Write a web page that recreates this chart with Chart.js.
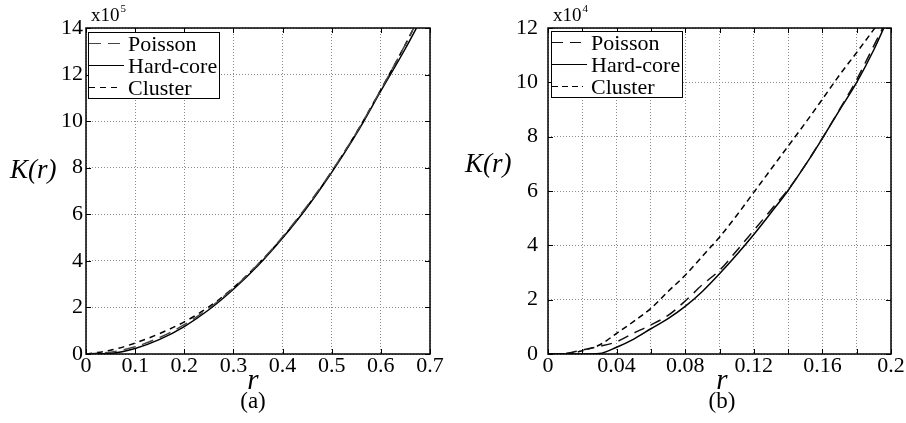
<!DOCTYPE html>
<html>
<head>
<meta charset="utf-8">
<title>K(r)</title>
<script src="https://cdn.jsdelivr.net/npm/chart.js@4.4.1/dist/chart.umd.min.js"></script>
<style>
  body { margin: 0; background: #fff; }
  #wrap { position: relative; width: 906px; height: 423px; }
  canvas { position: absolute; top: 0; }
</style>
</head>
<body>
<div id="wrap">
  <canvas id="chartA" width="453" height="423" style="left:0"></canvas>
  <canvas id="chartB" width="453" height="423" style="left:453px"></canvas>
</div>
<script>
// (a) K(r), units of 1e5
const rA = [0, 0.05, 0.1, 0.15, 0.2, 0.25, 0.3, 0.35, 0.4, 0.45, 0.5, 0.55, 0.6, 0.65, 0.7];
const poissonA = [0, 0.08, 0.31, 0.71, 1.26, 1.96, 2.83, 3.85, 5.03, 6.36, 7.85, 9.5, 11.35, 13.3, 15.4];
const hardCoreA = [0, 0.03, 0.24, 0.63, 1.18, 1.9, 2.78, 3.8, 4.98, 6.3, 7.8, 9.45, 11.3, 13.12, 15.1];
const clusterA = [0, 0.16, 0.47, 0.88, 1.38, 2.02, 2.85, 3.85, 5.0, 6.33, 7.83, 9.5, 11.35, 13.3, 15.4];

// (b) K(r), units of 1e4
const rB = [0, 0.01, 0.02, 0.03, 0.04, 0.05, 0.06, 0.07, 0.08, 0.09, 0.1,
            0.11, 0.12, 0.13, 0.14, 0.15, 0.16, 0.17, 0.18, 0.19, 0.2];
const poissonB = [0, 0.02, 0.15, 0.28, 0.45, 0.77, 1.07, 1.42, 1.95, 2.55, 3.08,
                  3.8, 4.55, 5.3, 6.05, 6.95, 7.95, 9.0, 10.1, 11.35, 12.6];
const hardCoreB = [0, 0, 0, 0.02, 0.25, 0.55, 0.93, 1.3, 1.75, 2.3, 2.95,
                   3.65, 4.4, 5.2, 6.02, 6.95, 7.94, 8.98, 10.0, 11.2, 12.6];
const clusterB = [0, 0, 0.12, 0.33, 0.76, 1.2, 1.68, 2.3, 2.9, 3.6, 4.3,
                  5.1, 5.95, 6.8, 7.65, 8.5, 9.38, 10.27, 11.1, 11.95, 12.8];

const SERIF = "'Liberation Serif', 'Times New Roman', serif";

const toPoints = (xs, ys) => xs.map((x, i) => ({ x, y: ys[i] }));

// box, inward ticks, legend and the axis texts
const framePlugin = {
  id: "frame",
  afterDatasetsDraw(chart, args, opts) {
    const { ctx, chartArea: a, scales: { x, y } } = chart;
    const L = Math.round(a.left), R = Math.round(a.right);
    const T = Math.round(a.top), B = Math.round(a.bottom);
    ctx.save();
    ctx.strokeStyle = "#000";
    ctx.lineWidth = 1;
    ctx.setLineDash([]);
    ctx.beginPath();
    x.ticks.forEach(t => {
      const px = Math.round(x.getPixelForValue(t.value)) + 0.5;
      ctx.moveTo(px, B); ctx.lineTo(px, B - 5);
      ctx.moveTo(px, T); ctx.lineTo(px, T + 5);
    });
    y.ticks.forEach(t => {
      const py = Math.round(y.getPixelForValue(t.value)) + 0.5;
      ctx.moveTo(L, py); ctx.lineTo(L + 5, py);
      ctx.moveTo(R, py); ctx.lineTo(R - 5, py);
    });
    ctx.stroke();

    ctx.lineWidth = 1.5;
    ctx.strokeRect(L, T, R - L, B - T);

    // legend
    const lg = opts.legend;
    ctx.fillStyle = "#fff";
    ctx.fillRect(lg.x, lg.y, lg.w, lg.h);
    ctx.lineWidth = 1;
    ctx.strokeStyle = "#000";
    ctx.strokeRect(lg.x + 0.5, lg.y + 0.5, lg.w, lg.h);
    ctx.font = "22px " + SERIF;
    ctx.textAlign = "left";
    ctx.textBaseline = "alphabetic";
    chart.data.datasets.forEach((ds, i) => {
      const cy = lg.y + 11.5 + i * 22;
      ctx.strokeStyle = ds.borderColor;
      ctx.lineWidth = 1.2;
      ctx.setLineDash(ds.legendDash);
      ctx.beginPath();
      ctx.moveTo(lg.x + 1, cy);
      ctx.lineTo(lg.x + (ds.legendDash.length ? 32 : 36), cy);
      ctx.stroke();
      ctx.setLineDash([]);
      ctx.fillStyle = "#000";
      ctx.fillText(ds.label, lg.x + 40, cy + 7);
    });

    // exponent above the y axis
    ctx.fillStyle = "#000";
    ctx.font = "19px " + SERIF;
    ctx.fillText("x10", L + 5, 21);
    const w = ctx.measureText("x10").width;
    ctx.font = "11px " + SERIF;
    ctx.fillText(opts.exponent, L + 5 + w + 1, 12);

    // axis names and panel tag
    ctx.font = "italic 27px " + SERIF;
    ctx.textBaseline = "middle";
    ctx.fillText("K(r)", opts.kx, opts.ky);
    ctx.textAlign = "center";
    ctx.textBaseline = "alphabetic";
    ctx.font = "italic 29px " + SERIF;
    ctx.fillText("r", opts.tagX, 389);
    ctx.font = "23px " + SERIF;
    ctx.fillText(opts.tag, opts.tagX, 408);
    ctx.restore();
  }
};

function buildChart(id, p) {
  return new Chart(document.getElementById(id), {
    type: "line",
    data: {
      datasets: [
        { label: "Poisson", data: toPoints(p.r, p.poisson), borderColor: p.poissonColor,
          borderDash: p.longDash, legendDash: p.longDash },
        { label: "Hard-core", data: toPoints(p.r, p.hardCore), borderColor: "#000",
          borderDash: [], legendDash: [] },
        { label: "Cluster", data: toPoints(p.r, p.cluster), borderColor: "#000",
          borderDash: p.shortDash, legendDash: p.shortDash }
      ]
    },
    options: {
      responsive: false,
      animation: false,
      layout: { padding: { top: 28, right: p.padRight, left: 0, bottom: 0 } },
      elements: {
        point: { radius: 0 },
        line: { borderWidth: 1.5, cubicInterpolationMode: "monotone", fill: false }
      },
      plugins: {
        legend: { display: false },
        tooltip: { enabled: false },
        frame: p.frame
      },
      scales: {
        x: {
          type: "linear", min: 0, max: p.xMax,
          afterFit: s => { s.height = 69; },
          grid: { color: "#8a8a8a", lineWidth: 1, drawTicks: false },
          border: { display: false, dash: [1, 2] },
          ticks: {
            stepSize: p.xStep, autoSkip: false, maxRotation: 0, padding: -1,
            color: "#000", font: { family: SERIF, size: 22 },
            callback: p.xLabel
          }
        },
        y: {
          min: 0, max: p.yMax,
          afterFit: s => { s.width = p.yWidth; },
          grid: { color: "#8a8a8a", lineWidth: 1, drawTicks: false },
          border: { display: false, dash: [1, 2] },
          ticks: {
            stepSize: 2, padding: p.yPad,
            color: "#000", font: { family: SERIF, size: 22 }
          }
        }
      }
    },
    plugins: [framePlugin]
  });
}

buildChart("chartA", {
  r: rA, poisson: poissonA, hardCore: hardCoreA, cluster: clusterA,
  poissonColor: "#444", longDash: [12, 7], shortDash: [6, 5],
  xMax: 0.7, xStep: 0.1, yMax: 14, yWidth: 86, yPad: 3, padRight: 23,
  xLabel: v => String(+v.toFixed(2)),
  frame: {
    legend: { x: 88, y: 32, w: 131, h: 66 },
    exponent: "5", kx: 10, ky: 171, tagX: 253, tag: "(a)"
  }
});

buildChart("chartB", {
  r: rB, poisson: poissonB, hardCore: hardCoreB, cluster: clusterB,
  poissonColor: "#111", longDash: [11, 7], shortDash: [6, 4],
  xMax: 0.2, xStep: 0.02, yMax: 12, yWidth: 95, yPad: 10, padRight: 15,
  xLabel: v => (Math.round(v * 100) % 4 === 0 ? String(+v.toFixed(2)) : ""),
  frame: {
    legend: { x: 98, y: 31, w: 131, h: 66 },
    exponent: "4", kx: 12, ky: 165, tagX: 269, tag: "(b)"
  }
});
</script>
</body>
</html>
